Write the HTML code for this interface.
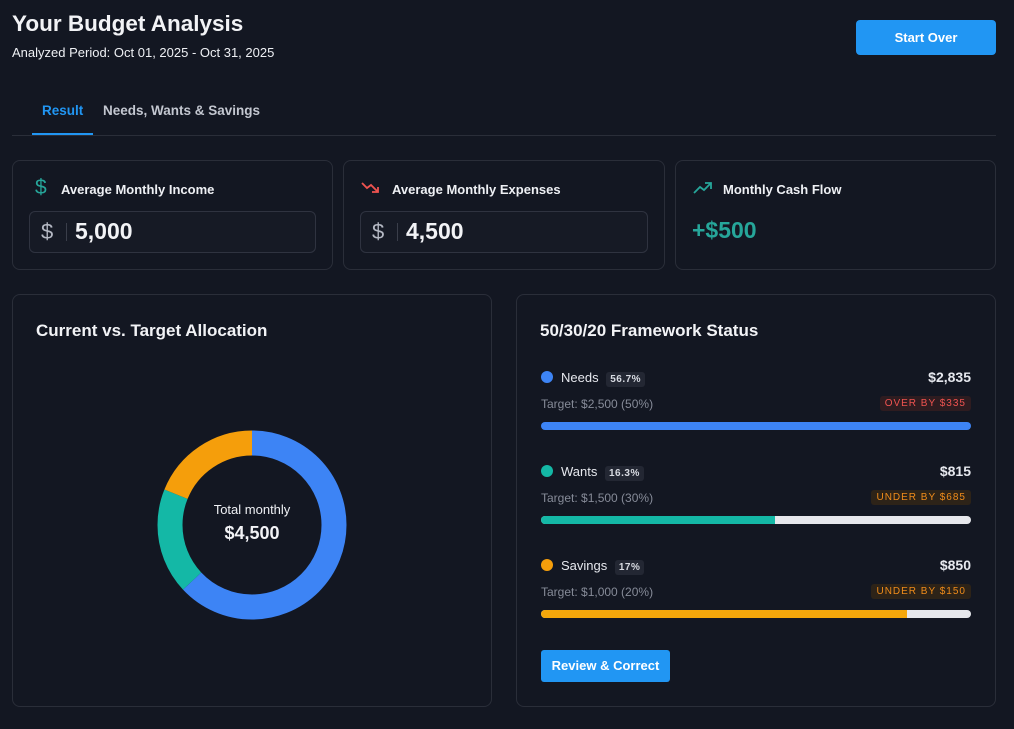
<!DOCTYPE html>
<html><head><meta charset="utf-8"><style>
*{box-sizing:border-box;margin:0;padding:0}
body{width:1014px;height:729px;background:#131722;color:#e6e8ee;font-family:"Liberation Sans",sans-serif;position:relative;overflow:hidden}
.a{position:absolute}
.card{position:absolute;border:1px solid #2a2e39;border-radius:8px;background:#131722}
.lbl{font-size:13px;font-weight:bold;color:#eef0f4}
.inp{position:absolute;border:1px solid #2f3340;border-radius:6px;background:#161a25}
.pill{font-size:10px;font-weight:bold;background:#232733;border-radius:3px;padding:2px 4px;color:#d8dbe2;letter-spacing:.5px}
.tag{font-size:10px;border-radius:3px;padding:2px 5px;letter-spacing:1px}
.bar{position:absolute;left:541px;width:430px;height:8px;border-radius:4px;background:#e6e7ec;overflow:hidden}
.bar div{height:100%}
.dot{display:inline-block;width:12px;height:12px;border-radius:50%;vertical-align:-1px;margin-right:8px}
.sub{font-size:12px;color:#868b98}
</style></head><body>
<div class="a" style="left:12px;top:11px;font-size:22.5px;font-weight:bold;color:#f2f3f6">Your Budget Analysis</div>
<div class="a" style="left:12px;top:45px;font-size:13px;color:#eef0f4">Analyzed Period: Oct 01, 2025 - Oct 31, 2025</div>
<div class="a" style="left:856px;top:20px;width:140px;height:35px;background:#2196f3;border-radius:4px;color:#fff;font-size:13px;font-weight:bold;text-align:center;line-height:35px">Start Over</div>
<div class="a" style="left:42px;top:103px;font-size:13.5px;font-weight:bold;color:#2196f3">Result</div>
<div class="a" style="left:103px;top:103px;font-size:13.5px;font-weight:bold;color:#c3c7d0">Needs, Wants &amp; Savings</div>
<div class="a" style="left:12px;top:135px;width:984px;height:1px;background:#2a2e39"></div>
<div class="a" style="left:32px;top:133px;width:61px;height:2px;background:#2196f3"></div>

<div class="card" style="left:12px;top:160px;width:321px;height:110px"></div>
<div class="card" style="left:343px;top:160px;width:322px;height:110px"></div>
<div class="card" style="left:675px;top:160px;width:321px;height:110px"></div>
<div class="a" style="left:35px;top:176px;font-size:21px;color:#26a69a">$</div>
<div class="a lbl" style="left:61px;top:182px">Average Monthly Income</div>
<svg class="a" style="left:361px;top:180px" width="22" height="16"><polyline points="1,3 6,8 10,5 17,12" fill="none" stroke="#ef5350" stroke-width="1.8"/><polyline points="11,12 17,12 17,7" fill="none" stroke="#ef5350" stroke-width="1.8"/></svg>
<div class="a lbl" style="left:392px;top:182px">Average Monthly Expenses</div>
<svg class="a" style="left:693px;top:180px" width="22" height="16"><polyline points="1,13 7,7 11,10 18,3" fill="none" stroke="#26a69a" stroke-width="1.8"/><polyline points="12,3 18,3 18,9" fill="none" stroke="#26a69a" stroke-width="1.8"/></svg>
<div class="a lbl" style="left:723px;top:182px">Monthly Cash Flow</div>
<div class="inp" style="left:29px;top:211px;width:287px;height:42px"></div>
<div class="inp" style="left:360px;top:211px;width:288px;height:42px"></div>
<div class="a" style="left:41px;top:219px;font-size:22px;color:#b5b9c4">$</div>
<div class="a" style="left:66px;top:223px;width:1px;height:18px;background:#3a3e4a"></div>
<div class="a" style="left:75px;top:218px;font-size:23px;font-weight:bold;color:#f2f3f6">5,000</div>
<div class="a" style="left:372px;top:219px;font-size:22px;color:#b5b9c4">$</div>
<div class="a" style="left:397px;top:223px;width:1px;height:18px;background:#3a3e4a"></div>
<div class="a" style="left:406px;top:218px;font-size:23px;font-weight:bold;color:#f2f3f6">4,500</div>
<div class="a" style="left:692px;top:217px;font-size:23px;font-weight:bold;color:#26a69a">+$500</div>

<div class="card" style="left:12px;top:294px;width:480px;height:413px"></div>
<div class="card" style="left:516px;top:294px;width:480px;height:413px"></div>
<div class="a" style="left:36px;top:321px;font-size:17px;font-weight:bold;color:#f2f3f6">Current vs. Target Allocation</div>
<svg class="a" style="left:152px;top:425px" width="200" height="200"><g transform="rotate(-90 100 100)" fill="none" stroke-width="25">
<circle cx="100" cy="100" r="82" stroke="#3d84f5" stroke-dasharray="324.6 600" stroke-dashoffset="0"/>
<circle cx="100" cy="100" r="82" stroke="#14b8a6" stroke-dasharray="93.2 600" stroke-dashoffset="-324.6"/>
<circle cx="100" cy="100" r="82" stroke="#f59e0b" stroke-dasharray="97.4 600" stroke-dashoffset="-417.8"/></g></svg>
<div class="a" style="left:152px;top:502px;width:200px;text-align:center;font-size:13px;color:#eef0f4">Total monthly</div>
<div class="a" style="left:152px;top:523px;width:200px;text-align:center;font-size:18px;font-weight:bold;color:#f2f3f6">$4,500</div>

<div class="a" style="left:540px;top:321px;font-size:17px;font-weight:bold;color:#f2f3f6">50/30/20 Framework Status</div>

<div class="a" style="left:541px;top:370px;font-size:13px"><span class="dot" style="background:#3d84f5"></span>Needs <span class="pill" style="margin-left:4px">56.7%</span></div>
<div class="a" style="right:43px;top:369px;font-size:14px;font-weight:bold">$2,835</div>
<div class="a sub" style="left:541px;top:397px">Target: $2,500 (50%)</div>
<div class="a tag" style="right:43px;top:396px;background:#2e1c20;color:#ef5350">OVER BY $335</div>
<div class="bar" style="top:422px"><div style="width:100%;background:#3d84f5"></div></div>

<div class="a" style="left:541px;top:464px;font-size:13px"><span class="dot" style="background:#14b8a6"></span>Wants <span class="pill" style="margin-left:4px">16.3%</span></div>
<div class="a" style="right:43px;top:463px;font-size:14px;font-weight:bold">$815</div>
<div class="a sub" style="left:541px;top:491px">Target: $1,500 (30%)</div>
<div class="a tag" style="right:43px;top:490px;background:#2d2318;color:#f08c1a">UNDER BY $685</div>
<div class="bar" style="top:516px"><div style="width:54.4%;background:#14b8a6"></div></div>

<div class="a" style="left:541px;top:558px;font-size:13px"><span class="dot" style="background:#f59e0b"></span>Savings <span class="pill" style="margin-left:4px">17%</span></div>
<div class="a" style="right:43px;top:557px;font-size:14px;font-weight:bold">$850</div>
<div class="a sub" style="left:541px;top:585px">Target: $1,000 (20%)</div>
<div class="a tag" style="right:43px;top:584px;background:#2d2318;color:#f08c1a">UNDER BY $150</div>
<div class="bar" style="top:610px"><div style="width:85%;background:#f5a70b"></div></div>

<div class="a" style="left:541px;top:650px;width:129px;height:32px;background:#2196f3;border-radius:3px;color:#fff;font-size:13px;font-weight:bold;text-align:center;line-height:32px">Review &amp; Correct</div>
</body></html>
